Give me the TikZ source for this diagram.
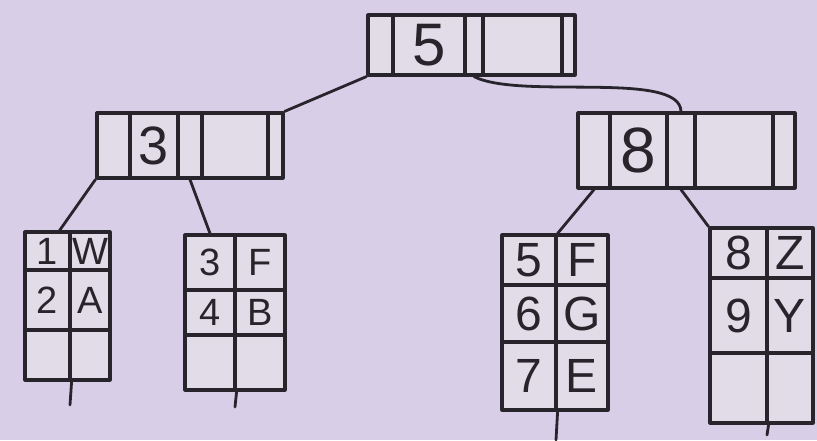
\documentclass[tikz,border=0pt]{standalone}
\usepackage{fontspec}
\setmainfont{Liberation Sans}
\definecolor{paper}{RGB}{217,206,232}
\definecolor{boxfill}{RGB}{225,220,231}
\definecolor{ink}{RGB}{40,36,44}
\begin{document}
\begin{tikzpicture}[x=1pt,y=-1pt,line join=round,line cap=round,
	cell/.style={draw=ink,fill=boxfill,line width=3.2pt,rectangle,inner sep=0pt,text=ink,minimum width=#1},
	fs/.style={font=\fontsize{#1}{#1}\selectfont}]
	\fill[paper] (0,0) rectangle (817,440);
	\useasboundingbox (0,0) rectangle (817,440);
	% root
	\begin{scope}[every node/.append style={minimum height=60pt,fs=60}]
		\node[cell=25] (rp1) at (380.5,45) {};
		\node[cell=72] (rk1) at (429,45) {5};
		\node[cell=18] (rp2) at (474,45) {};
		\node[cell=79] (rk2) at (522.5,45) {};
		\node[cell=13] (rp3) at (568.5,45) {};
	\end{scope}
	% left inner node
	\begin{scope}[every node/.append style={minimum height=65pt,fs=54}]
		\node[cell=33] (ap1) at (113.5,145.5) {};
		\node[cell=48] (ak1) at (154,145.5) {3};
		\node[cell=24] (ap2) at (190,145.5) {};
		\node[cell=66] (ak2) at (235,145.5) {};
		\node[cell=15] (ap3) at (275.5,145.5) {};
	\end{scope}
	% right inner node
	\begin{scope}[every node/.append style={minimum height=75pt,fs=64}]
		\node[cell=32] (bp1) at (594,150.5) {};
		\node[cell=57] (bk1) at (638.5,150.5) {8};
		\node[cell=28] (bp2) at (681,150.5) {};
		\node[cell=78] (bk2) at (734,150.5) {};
		\node[cell=22] (bp3) at (784,150.5) {};
	\end{scope}
	% leaves
	\begin{scope}[every node/.append style={fs=38}]
		\node[cell=45,minimum height=38pt] (l1a) at (47.5,251) {1};
		\node[cell=40,minimum height=38pt] (l1b) at (90,251) {W};
		\node[cell=45,minimum height=60pt] (l1c) at (47.5,300) {2};
		\node[cell=40,minimum height=60pt] (l1d) at (90,300) {A};
		\node[cell=45,minimum height=50pt] (l1e) at (47.5,355) {};
		\node[cell=40,minimum height=50pt] (l1f) at (90,355) {};
		\node[cell=50,minimum height=55pt] (l2a) at (210,262.5) {3};
		\node[cell=50,minimum height=55pt] (l2b) at (260,262.5) {F};
		\node[cell=50,minimum height=45pt] (l2c) at (210,312.5) {4};
		\node[cell=50,minimum height=45pt] (l2d) at (260,312.5) {B};
		\node[cell=50,minimum height=55pt] (l2e) at (210,362.5) {};
		\node[cell=50,minimum height=55pt] (l2f) at (260,362.5) {};
	\end{scope}
	\begin{scope}[every node/.append style={fs=48}]
		\node[cell=54,minimum height=50pt] (l3a) at (529,260) {5};
		\node[cell=52,minimum height=50pt] (l3b) at (582,260) {F};
		\node[cell=54,minimum height=57pt] (l3c) at (529,313.5) {6};
		\node[cell=52,minimum height=57pt] (l3d) at (582,313.5) {G};
		\node[cell=54,minimum height=68pt] (l3e) at (529,376) {7};
		\node[cell=52,minimum height=68pt] (l3f) at (582,376) {E};
		\node[cell=57,minimum height=50pt] (l4a) at (738.5,253) {8};
		\node[cell=46,minimum height=50pt] (l4b) at (790,253) {Z};
		\node[cell=57,minimum height=75pt] (l4c) at (738.5,315.5) {9};
		\node[cell=46,minimum height=75pt] (l4d) at (790,315.5) {Y};
		\node[cell=57,minimum height=70pt] (l4e) at (738.5,388) {};
		\node[cell=46,minimum height=70pt] (l4f) at (790,388) {};
	\end{scope}
	% pointers
	\begin{scope}[draw=ink,line width=2.8pt]
		\draw (rp1.south west) -- (ap3.north east);
		\draw (rp2.south) .. controls (520,100) and (680,70) .. (bp2.north);
		\draw (ap1.south west) -- ([xshift=-12]l1a.north east);
		\draw (ap2.south) -- (l2a.north);
		\draw (bp1.south) -- (l3a.north east);
		\draw (bp2.south) -- (l4a.north west);
		% next-leaf stubs
		\coordinate (n1) at (70,405);
		\coordinate (n2) at (235,407);
		\coordinate (n3) at (556,440);
		\coordinate (n4) at (767,435);
		\draw (l1e.south east) -- (n1);
		\draw (l2e.south east) -- (n2);
		\draw (l3e.south east) -- (n3);
		\draw (l4e.south east) -- (n4);
	\end{scope}
\end{tikzpicture}
\end{document}
